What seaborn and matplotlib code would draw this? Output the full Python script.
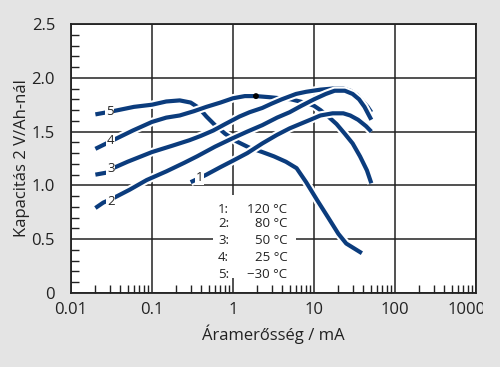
import matplotlib
matplotlib.use("Agg")
import matplotlib.pyplot as plt
import matplotlib.patheffects as pe
from matplotlib.patches import Rectangle
from matplotlib.ticker import FixedLocator, FixedFormatter, MultipleLocator, NullFormatter
from matplotlib.transforms import Bbox, TransformedBbox, ScaledTranslation
import seaborn as sns

# current (mA) / capacity, one curve per temperature
x1 = [0.3, 0.39, 0.47, 0.7, 1.0, 1.5, 2.3, 3.5, 5, 6.7, 9, 12, 17, 23, 28, 35, 44, 51]
y1 = [1.03, 1.07, 1.10, 1.17, 1.23, 1.30, 1.39, 1.47, 1.53, 1.57, 1.61, 1.65, 1.67, 1.67, 1.65, 1.61, 1.55, 1.50]

x2 = [0.02, 0.025, 0.033, 0.053, 0.086, 0.15, 0.25, 0.36, 0.6, 1.0, 1.5, 2.3, 3.5, 5, 7, 10, 14, 18, 24, 30, 36, 42, 47, 51]
y2 = [0.79, 0.84, 0.88, 0.96, 1.05, 1.13, 1.21, 1.27, 1.36, 1.44, 1.50, 1.56, 1.63, 1.68, 1.74, 1.80, 1.85, 1.88, 1.88, 1.85, 1.80, 1.73, 1.66, 1.61]

x3 = [0.02, 0.028, 0.033, 0.05, 0.1, 0.18, 0.29, 0.4, 0.57, 0.8, 1.2, 1.6, 2.3, 3.0, 4.0, 6, 8, 12, 17, 23, 28, 34, 40, 46, 51]
y3 = [1.10, 1.12, 1.16, 1.22, 1.31, 1.37, 1.42, 1.46, 1.51, 1.57, 1.64, 1.68, 1.72, 1.76, 1.80, 1.85, 1.87, 1.89, 1.90, 1.90, 1.88, 1.84, 1.78, 1.73, 1.68]

x4 = [0.02, 0.033, 0.058, 0.1, 0.15, 0.22, 0.33, 0.47, 0.7, 1.0, 1.4, 1.92, 2.8, 3.8, 5.2, 6.7, 8.5, 10, 12, 15, 19, 24, 30, 37, 45, 51]
y4 = [1.34, 1.42, 1.51, 1.59, 1.63, 1.65, 1.69, 1.73, 1.77, 1.81, 1.83, 1.83, 1.82, 1.81, 1.80, 1.78, 1.76, 1.74, 1.70, 1.64, 1.57, 1.48, 1.39, 1.27, 1.14, 1.02]

x5 = [0.02, 0.033, 0.06, 0.1, 0.15, 0.22, 0.3, 0.38, 0.47, 0.6, 0.8, 1.1, 1.6, 2.3, 3.2, 4.5, 6.1, 8, 11, 15, 20, 25, 32, 39]
y5 = [1.66, 1.69, 1.73, 1.75, 1.78, 1.79, 1.77, 1.72, 1.64, 1.56, 1.48, 1.41, 1.35, 1.31, 1.27, 1.22, 1.16, 1.03, 0.86, 0.70, 0.55, 0.46, 0.41, 0.37]

curves = [(x5, y5), (x4, y4), (x3, y3), (x2, y2), (x1, y1)]

curve_labels = ["5", "4", "3", "2", "1"]
label_x = [0.030, 0.031, 0.031, 0.031, 0.39]
label_y = [1.69, 1.42, 1.16, 0.85, 1.07]

legend_keys = ["1:", "2:", "3:", "4:", "5:"]
legend_temps = ["120 °C", "80 °C", "50 °C", "25 °C", "\u221230 °C"]
legend_y = [0.78, 0.644, 0.49, 0.328, 0.174]

marker_x = [1.92]
marker_y = [1.83]

x_ticks = [0.01, 0.1, 1, 10, 100, 1000]
x_ticklabels = ["0.01", "0.1", "1", "10", "100", "1000"]

BLUE = "#0b3c7d"
BG = "#e4e4e4"

sns.set_style("white")
plt.rcParams["font.family"] = ["Open Sans", "DejaVu Sans"]

fig = plt.figure(figsize=(5, 3.67), dpi=100, facecolor=BG)
ax = fig.add_axes([0.142, 0.2016, 0.81, 0.733])
ax.set_facecolor("white")

halo = [pe.withStroke(linewidth=6, foreground="white")]
for xs, ys in curves:
    sns.lineplot(x=xs, y=ys, ax=ax, color=BLUE, lw=3.0, sort=False,
                 estimator=None, path_effects=halo, solid_capstyle="butt", zorder=3)

sns.scatterplot(x=marker_x, y=marker_y, ax=ax, color="black", s=18, zorder=6, edgecolor="none")

for t, lx, ly in zip(curve_labels, label_x, label_y):
    ax.text(lx, ly, t, ha="center", va="center", fontsize=9.5, color="#222222", zorder=5,
            bbox=dict(facecolor="white", edgecolor="none", pad=0.6))

# white panel behind the temperature key
ax.add_patch(Rectangle((0.566, 0.14), 6.0 - 0.566, 0.77, facecolor="white",
                       edgecolor="none", zorder=1))
for k, t, ly in zip(legend_keys, legend_temps, legend_y):
    ax.text(0.653, ly, k, ha="left", va="center", fontsize=9.5, color="#222222", zorder=4)
    ax.text(4.7, ly, t, ha="right", va="center", fontsize=9.5, color="#222222", zorder=4)

ax.set_xscale("log")
ax.set_xlim(0.01, 1000)
ax.set_ylim(0, 2.5)

ax.xaxis.set_major_locator(FixedLocator(x_ticks))
ax.xaxis.set_major_formatter(FixedFormatter(x_ticklabels))
minor = [m * 10.0 ** e for e in range(-2, 3) for m in range(2, 10)]
ax.xaxis.set_minor_locator(FixedLocator(minor))
ax.xaxis.set_minor_formatter(NullFormatter())
ax.set_yticks([0, 0.5, 1.0, 1.5, 2.0, 2.5])
ax.set_yticklabels(["0", "0.5", "1.0", "1.5", "2.0", "2.5"])
ax.yaxis.set_minor_locator(MultipleLocator(0.1))

ax.grid(True, which="major", color="#222222", lw=1.1)
ax.set_axisbelow(True)
ax.tick_params(which="both", bottom=True, left=True, top=False, right=False)
ax.tick_params(which="major", length=0, labelsize=12, colors="#222222")
ax.tick_params(axis="y", which="major", pad=11.5)
ax.tick_params(axis="x", which="major", pad=6.5)
ax.tick_params(which="minor", direction="in", length=5.5, width=1.0, color="#222222")
for s in ax.spines.values():
    s.set_visible(True)
    s.set_color("#222222")
    s.set_linewidth(1.3)

ax.set_xlabel("Áramerősség / mA", fontsize=12, color="#222222", labelpad=5)
ax.set_ylabel("Kapacitás 2 V/Ah-nál", fontsize=12, color="#222222")
ax.yaxis.set_label_coords(-0.121, 0.5)
ax.yaxis.label.set_va("center")

# the last tick label runs off the picture edge in the original
last = ax.get_xticklabels()[-1]
last.set_horizontalalignment("right")
last.set_transform(last.get_transform() + ScaledTranslation(10 / 100, 0, fig.dpi_scale_trans))
last.set_clip_box(TransformedBbox(Bbox([[0, 0], [483 / 500, 1]]), fig.transFigure))
last.set_clip_on(True)

fig.savefig("out.png", dpi=100, facecolor=BG)
